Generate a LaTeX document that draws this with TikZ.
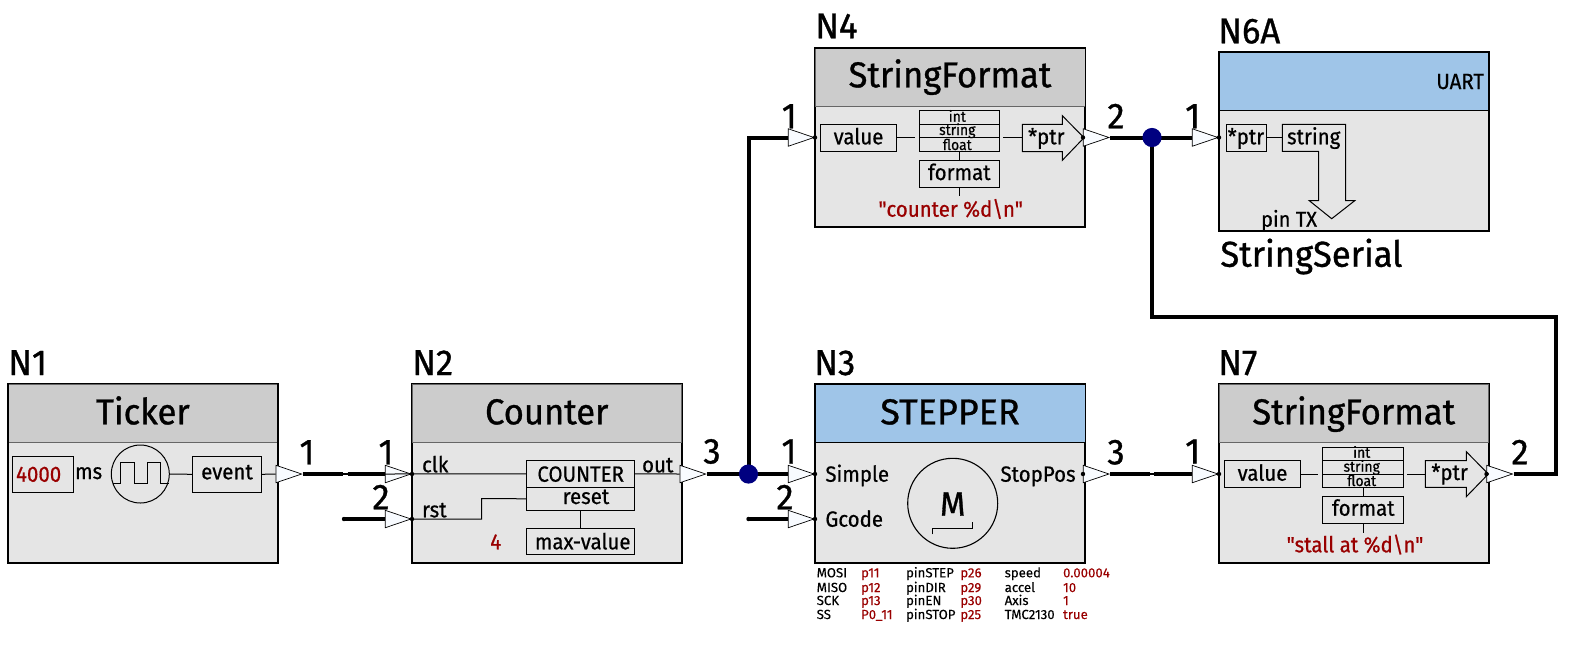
\documentclass[tikz,border=0pt]{standalone}
\usepackage{fontspec}
\setmainfont{Fira Sans}
\newfontfamily\bigf{Fira Sans}[FakeStretch=0.96,FakeBold=0.9]
\newfontfamily\midf{Fira Sans}[FakeStretch=0.93,FakeBold=0.6]
\newfontfamily\tbf{Fira Sans}[FakeBold=0.3]
\usetikzlibrary{shapes.geometric}
\definecolor{hgray}{HTML}{CCCCCC}
\definecolor{bodyg}{HTML}{E5E5E5}
\definecolor{hblue}{HTML}{9FC5E8}
\definecolor{dred}{HTML}{990000}
\definecolor{junc}{HTML}{000080}
\definecolor{tri}{HTML}{F8FBFF}
\newcommand{\bx}[7]{% style, name, x1,y1,x2,y2, text
  \pgfmathsetmacro{\bw}{(#5-#3)*0.5}\pgfmathsetmacro{\bh}{(#6-#4)*0.5}
  \node[#1,rectangle,inner sep=0pt,minimum width=\bw pt,minimum height=\bh pt] (#2) at ({(#3+#5)/2},{(#4+#6)/2}) {#7};}
\tikzset{
  x=0.5pt,y=-0.5pt,
  every node/.style={text=black},
  body/.style={draw=black,fill=bodyg,line width=0.6pt},
  head/.style={draw=black,line width=0.5pt},
  sub/.style={draw=black,line width=0.5pt},
  thin line/.style={line width=0.5pt},
  wire/.style={line width=2pt,line cap=butt},
  port/.style={isosceles triangle,isosceles triangle apex angle=38,isosceles triangle stretches,minimum width=8.7pt,minimum height=12.8pt,inner sep=0pt,draw=black,line width=0.35pt,fill=tri,anchor=apex},
  pdot/.style={circle,fill=black,inner sep=0pt,minimum size=2.2pt},
  jdot/.style={circle,fill=junc,inner sep=0pt,minimum size=9.6pt},
  big/.style={inner sep=0pt,font=\fontsize{18}{18}\bigf},
  mid/.style={inner sep=0pt,font=\fontsize{11}{11}\midf},
  sm/.style={inner sep=0pt,font=\fontsize{7.5}{7.5}\midf},
  tb/.style={inner sep=0pt,anchor=base west,font=\fontsize{6.6}{6.6}\tbf},
  tbr/.style={tb,text=dred},
  red/.style={text=dred},
}
\begin{document}
\begin{tikzpicture}
\useasboundingbox (0,0) rectangle (1574,655);
% ---- block bodies
\bx{body}{N1b}{8.5}{384.3}{277.3}{563}{}
\bx{head,fill=hgray,draw=black!60}{N1h}{8.5}{384.3}{277.3}{442}{}
\bx{body}{N2b}{412}{384.3}{681.5}{563}{}
\bx{head,fill=hgray,draw=black!60}{N2h}{412}{384.3}{681.5}{442}{}
\bx{body}{N3b}{815}{384.3}{1085}{563}{}
\bx{head,fill=hblue}{N3h}{815}{384.3}{1085}{442}{}
\bx{body}{N7b}{1219}{384.3}{1488.5}{563}{}
\bx{head,fill=hgray,draw=black!60}{N7h}{1219}{384.3}{1488.5}{442}{}
\bx{body}{N4b}{815}{48.5}{1085}{227}{}
\bx{head,fill=hgray,draw=black!60}{N4h}{815}{48.5}{1085}{106.7}{}
\bx{body}{N6b}{1219}{52.5}{1488.5}{231}{}
\bx{head,fill=hblue}{N6h}{1219}{52.5}{1488.5}{110}{}
% redraw outer outlines over the headers
\foreach \n in {N1b,N2b,N3b,N7b,N4b,N6b} \draw[line width=0.6pt] (\n.south west) rectangle (\n.north east);
% ---- labels and titles
\node[big,anchor=base west] (lN1) at (8,375) {N1};
\node[big,anchor=base west] (lN2) at (412,375) {N2};
\node[big,anchor=base west] (lN3) at (814,375) {N3};
\node[big,anchor=base west] (lN7) at (1218,375) {N7};
\node[big,anchor=base west] (lN4) at (815,38.3) {N4};
\node[big,anchor=base west] (lN6) at (1218,43.3) {N6A};
\node[big,anchor=base] (tN1) at (N1h.center |- 0,424.3) {Ticker};
\node[big,anchor=base] (tN2) at (N2h.center |- 0,424.3) {Counter};
\node[big,anchor=base] (tN3) at (N3h.center |- 0,424.3) {\scalebox{1.04}[1]{STEPPER}};
\node[big,anchor=base] (tN7) at (N7h.center |- 0,424.3) {StringFormat};
\node[big,anchor=base] (tN4) at (N4h.center |- 0,87.3) {StringFormat};
\node[big,anchor=base west] (tN6) at (1220,266.7) {StringSerial};
\node[mid,anchor=base east] (uart) at (1484.3,89) {UART};
% ---- ports
\node[port] (p1o) at (302.7,474) {};
\node[port] (p2i1) at (412,474) {};
\node[port] (p2i2) at (412,519) {};
\node[port] (p2o) at (706.7,474) {};
\node[port] (p3i1) at (815,474) {};
\node[port] (p3i2) at (815,519) {};
\node[port] (p3o) at (1110,474) {};
\node[port] (p7i) at (1219,474) {};
\node[port] (p7o) at (1513.5,474) {};
\node[port] (p4i) at (815,137.5) {};
\node[port] (p4o) at (1110,137.5) {};
\node[port] (p6i) at (1219,137.5) {};
% ---- port numbers
\node[big,anchor=base] (n1o) at (307,464.3) {1};
\node[big,anchor=base] (n2i1) at (386,464.3) {1};
\node[big,anchor=base] (n2i2) at (381,509.3) {2};
\node[big,anchor=base] (n2o) at (712,463.5) {3};
\node[big,anchor=base] (n3i1) at (789,463.5) {1};
\node[big,anchor=base] (n3i2) at (785,509.3) {2};
\node[big,anchor=base] (n3o) at (1116,464.3) {3};
\node[big,anchor=base] (n7i) at (1192.7,463.5) {1};
\node[big,anchor=base] (n7o) at (1520,464.3) {2};
\node[big,anchor=base] (n4i) at (789.3,128.3) {1};
\node[big,anchor=base] (n4o) at (1116,128.3) {2};
\node[big,anchor=base] (n6i) at (1192.7,128.3) {1};
% ---- junctions and wire ends
\coordinate (g1a) at (343,474);
\coordinate (g1b) at (347.5,474);
\coordinate (s2) at (344,519);
\coordinate (s3) at (748.5,519);
\coordinate (g3a) at (1150,474);
\coordinate (g3b) at (1154,474);
\coordinate (c4) at (748.5,137.5);
\coordinate (c7a) at (1555.7,474);
\coordinate (c7b) at (1555.7,316.7);
\coordinate (c7c) at (1152,316.7);
\node[coordinate] (j1) at (748.5,474) {};
\node[coordinate] (j2) at (1152,137.5) {};
% ---- thick wires
\draw[wire] (p1o.apex) -- (g1a);
\draw[wire] (g1b) -- (p2i1.lower side);
\draw[line width=1pt] (g1a) -- (g1b);
\draw[wire] (s2) -- (p2i2.lower side);
\draw[wire] (p2o.apex) -- (p3i1.lower side);
\draw[wire] (j1) -- (c4) -- (p4i.lower side);
\draw[wire] (s3) -- (p3i2.lower side);
\draw[wire] (p3o.apex) -- (g3a);
\draw[wire] (g3b) -- (p7i.lower side);
\draw[line width=1pt] (g3a) -- (g3b);
\draw[wire] (p4o.apex) -- (p6i.lower side);
\draw[wire] (p7o.apex) -- (c7a) -- (c7b) -- (c7c) -- (j2);
\node[pdot] (d1) at (s2) {};
\node[pdot] (d2) at (s3) {};
\node[jdot] (jd1) at (j1) {};
\node[jdot] (jd2) at (j2) {};
% ---- N1 contents
\bx{sub,fill=bodyg}{val}{12.3}{456.3}{73.3}{492.3}{}
\node[mid,red,anchor=base west] (v4000) at (15.7,481.7) {4000};
\node[mid,anchor=base west] (ms) at (74.7,479) {ms};
\node[circle,draw=black,line width=0.5pt,inner sep=0pt,minimum size=29pt] (clk) at (140.3,474) {};
\draw[thin line] (113.3,483.3) -- (120.7,483.3) -- (120.7,462.3) -- (134.3,462.3) -- (134.3,483.3) -- (147.7,483.3) -- (147.7,462.3) -- (160.7,462.3) -- (160.7,483.3) -- (169,483.3);
\bx{sub,fill=bodyg}{ev}{192.3}{456.3}{261.7}{492.3}{}
\node[mid,anchor=base] (evt) at (227,479.3) {event};
\draw[thin line] (clk.east) -- (ev.west);
\draw[thin line] (ev.east) -- (p1o.lower side);
% ---- N2 contents
\bx{sub,fill=bodyg}{cnt}{526.3}{460.3}{634.7}{487.3}{}
\bx{sub,fill=bodyg}{rs}{526.3}{487.3}{634.7}{510.3}{}
\bx{sub,fill=bodyg}{mx}{526.3}{528.3}{634.7}{554.3}{}
\node[mid,anchor=base] (cntt) at (580.7,481.7) {COUNTER};
\node[mid,anchor=base] (rst2) at (586,504) {reset};
\node[mid,anchor=base] (mxt) at (582.7,549.3) {max-value};
\node[mid,red,anchor=base] (four) at (495.7,549.3) {4};
\node[mid,anchor=base west] (clkt) at (421.7,472.3) {clk};
\node[mid,anchor=base west] (rstt) at (421.7,517.3) {rst};
\node[mid,anchor=base west] (outt) at (641.7,472.3) {out};
\draw[thin line] (p2i1.lower side) -- (cnt.west);
\draw[thin line] (p2i2.apex) -- (481.7,519) -- (481.7,498.5) -- (rs.west);
\draw[thin line] (rs.south -| mx.north) -- (mx.north);
\draw[thin line] (cnt.east) -- (p2o.lower side);
\node[pdot] (d3) at (p2i1.apex) {};
\node[pdot] (d4) at (p2i2.apex) {};
% ---- N3 contents
\node[mid,anchor=base west] (si) at (825,481.7) {Simple};
\node[mid,anchor=base west] (gc) at (825,526.7) {Gcode};
\node[mid,anchor=base east] (sp) at (1076,481.7) {StopPos};
\node[circle,draw=black,line width=0.55pt,inner sep=0pt,minimum size=45pt] (mot) at (952.7,503.3) {};
\node[inner sep=0pt,anchor=base,font=\fontsize{17}{17}\bigf] (M) at (952.7,515.7) {M};
\draw[thin line] (932.7,534.3) -- (932.7,528.7) -- (972.3,528.7) -- (972.3,521.7);
\node[pdot] (d5) at (p3i1.apex) {};
\node[pdot] (d6) at (p3i2.apex) {};
\node[pdot] (d7) at (p3o.lower side) {};
% ---- table
\node[tb] (a1) at (816.3,577.3) {MOSI};
\node[tb] (a2) at (816.3,592) {MISO};
\node[tb] (a3) at (816.3,605) {SCK};
\node[tb] (a4) at (816.3,619) {SS};
\node[tbr] (b1) at (860.7,577.3) {p11};
\node[tbr] (b2) at (860.7,592) {p12};
\node[tbr] (b3) at (860.7,605) {p13};
\node[tbr] (b4) at (860.7,619) {P0\_11};
\node[tb] (c1) at (905.7,577.3) {pinSTEP};
\node[tb] (c2) at (905.7,592) {pinDIR};
\node[tb] (c3) at (905.7,605) {pinEN};
\node[tb] (c4t) at (905.7,619) {pinSTOP};
\node[tbr] (e1) at (960,577.3) {p26};
\node[tbr] (e2) at (960,592) {p29};
\node[tbr] (e3) at (960,605) {p30};
\node[tbr] (e4) at (960,619) {p25};
\node[tb] (f1) at (1004.3,577.3) {speed};
\node[tb] (f2) at (1004.3,592) {accel};
\node[tb] (f3) at (1004.3,605) {Axis};
\node[tb] (f4) at (1004.3,619) {TMC2130};
\node[tbr] (h1) at (1062.7,577.3) {0.00004};
\node[tbr] (h2) at (1062.7,592) {10};
\node[tbr] (h3) at (1062.7,605) {1};
\node[tbr] (h4) at (1062.7,619) {true};
% ---- N7 contents
\bx{sub,fill=bodyg}{v7}{1224.3}{460.3}{1300.7}{487.3}{}
\node[mid,anchor=base] (v7t) at (1262.5,480.7) {value};
\bx{sub,fill=bodyg}{i7}{1322.3}{447.3}{1403.7}{460.7}{}
\bx{sub,fill=bodyg}{s7}{1322.3}{460.7}{1403.7}{474.3}{}
\bx{sub,fill=bodyg}{f7}{1322.3}{474.3}{1403.7}{487.3}{}
\node[sm,anchor=base] (i7t) at (1361.7,457.7) {int};
\node[sm,anchor=base] (s7t) at (1361.7,471.7) {string};
\node[sm,anchor=base] (f7t) at (1361.7,486) {float};
\coordinate (l7a) at (1318,474);
\coordinate (l7b) at (1407,474);
\draw[thin line] (v7.east |- l7a) -- (l7a);
\draw[sub,fill=bodyg] (1425.3,460.7) -- (1466.3,460.7) -- (1466.3,451.7) -- (1488.3,474) -- (1466.3,496.7) -- (1466.3,487.3) -- (1425.3,487.3) -- cycle;
\coordinate (a7) at (1425.3,474);
\draw[thin line] (l7b) -- (a7);
\node[mid,anchor=base west] (p7t) at (1431,480) {*ptr};
\bx{sub,fill=bodyg}{m7}{1322.3}{496.3}{1403.7}{523.7}{}
\node[mid,anchor=base] (m7t) at (1363.3,515.7) {format};
\draw[thin line] (m7.north) -- (m7.north |- f7.south);
\coordinate (e7) at (1363,532.7);
\draw[thin line] (m7.south) -- (e7);
\node[mid,red,anchor=base] (q7) at (1355,552.3) {"stall at \%d\textbackslash n"};
% ---- N4 contents
\bx{sub,fill=bodyg}{v4}{820.3}{124.3}{896.7}{151.7}{}
\node[mid,anchor=base] (v4t) at (858.5,144.3) {value};
\bx{sub,fill=bodyg}{i4}{919.3}{110.3}{999.7}{124.3}{}
\bx{sub,fill=bodyg}{s4}{919.3}{124.3}{999.7}{137.3}{}
\bx{sub,fill=bodyg}{f4t}{919.3}{137.3}{999.7}{151.7}{}
\node[sm,anchor=base] (i4t) at (957.3,121.7) {int};
\node[sm,anchor=base] (s4t) at (957.3,135) {string};
\node[sm,anchor=base] (f4x) at (957.3,150) {float};
\coordinate (l4a) at (915,137.5);
\coordinate (l4b) at (1003,137.5);
\draw[thin line] (v4.east |- l4a) -- (l4a);
\draw[sub,fill=bodyg] (1022.3,124.3) -- (1062.3,124.3) -- (1062.3,115.7) -- (1084,137.7) -- (1062.3,160.3) -- (1062.3,151.7) -- (1022.3,151.7) -- cycle;
\coordinate (a4) at (1022.3,137.5);
\draw[thin line] (l4b) -- (a4);
\node[mid,anchor=base west] (p4t) at (1027.7,144.3) {*ptr};
\bx{sub,fill=bodyg}{m4}{919.3}{160}{999.7}{187.3}{}
\node[mid,anchor=base] (m4t) at (959.3,180) {format};
\draw[thin line] (m4.north) -- (m4.north |- f4t.south);
\coordinate (e4c) at (959.5,195.7);
\draw[thin line] (m4.south) -- (e4c);
\node[mid,red,anchor=base] (q4) at (950.7,216.7) {"counter \%d\textbackslash n"};
\node[pdot] (d8) at (p4i.apex) {};
\node[pdot] (d9) at (p4o.lower side) {};
% ---- N6A contents
\bx{sub,fill=bodyg}{p6}{1226.3}{124.3}{1266.7}{151.3}{}
\node[mid,anchor=base west] (p6t) at (1227.3,144.3) {*ptr};
\draw[sub,fill=bodyg] (1282.3,124.3) -- (1345.7,124.3) -- (1345.7,200.7) -- (1354.7,200.7) -- (1331.7,218.7) -- (1309.3,200.7) -- (1318.7,200.7) -- (1318.7,151.3) -- (1282.3,151.3) -- cycle;
\coordinate (s6) at (1282.3,137.8);
\draw[thin line] (p6.east) -- (s6);
\node[mid,anchor=base] (s6t) at (1313.7,144.3) {string};
\node[mid,anchor=base west,font=\fontsize{10.8}{10.8}\midf] (pintx) at (1260.7,226.7) {pin TX};
\node[pdot] (d10) at (p6i.apex) {};
\node[pdot] (d11) at (p7i.apex) {};
\node[pdot] (d12) at (p7o.lower side) {};
\end{tikzpicture}
\end{document}
